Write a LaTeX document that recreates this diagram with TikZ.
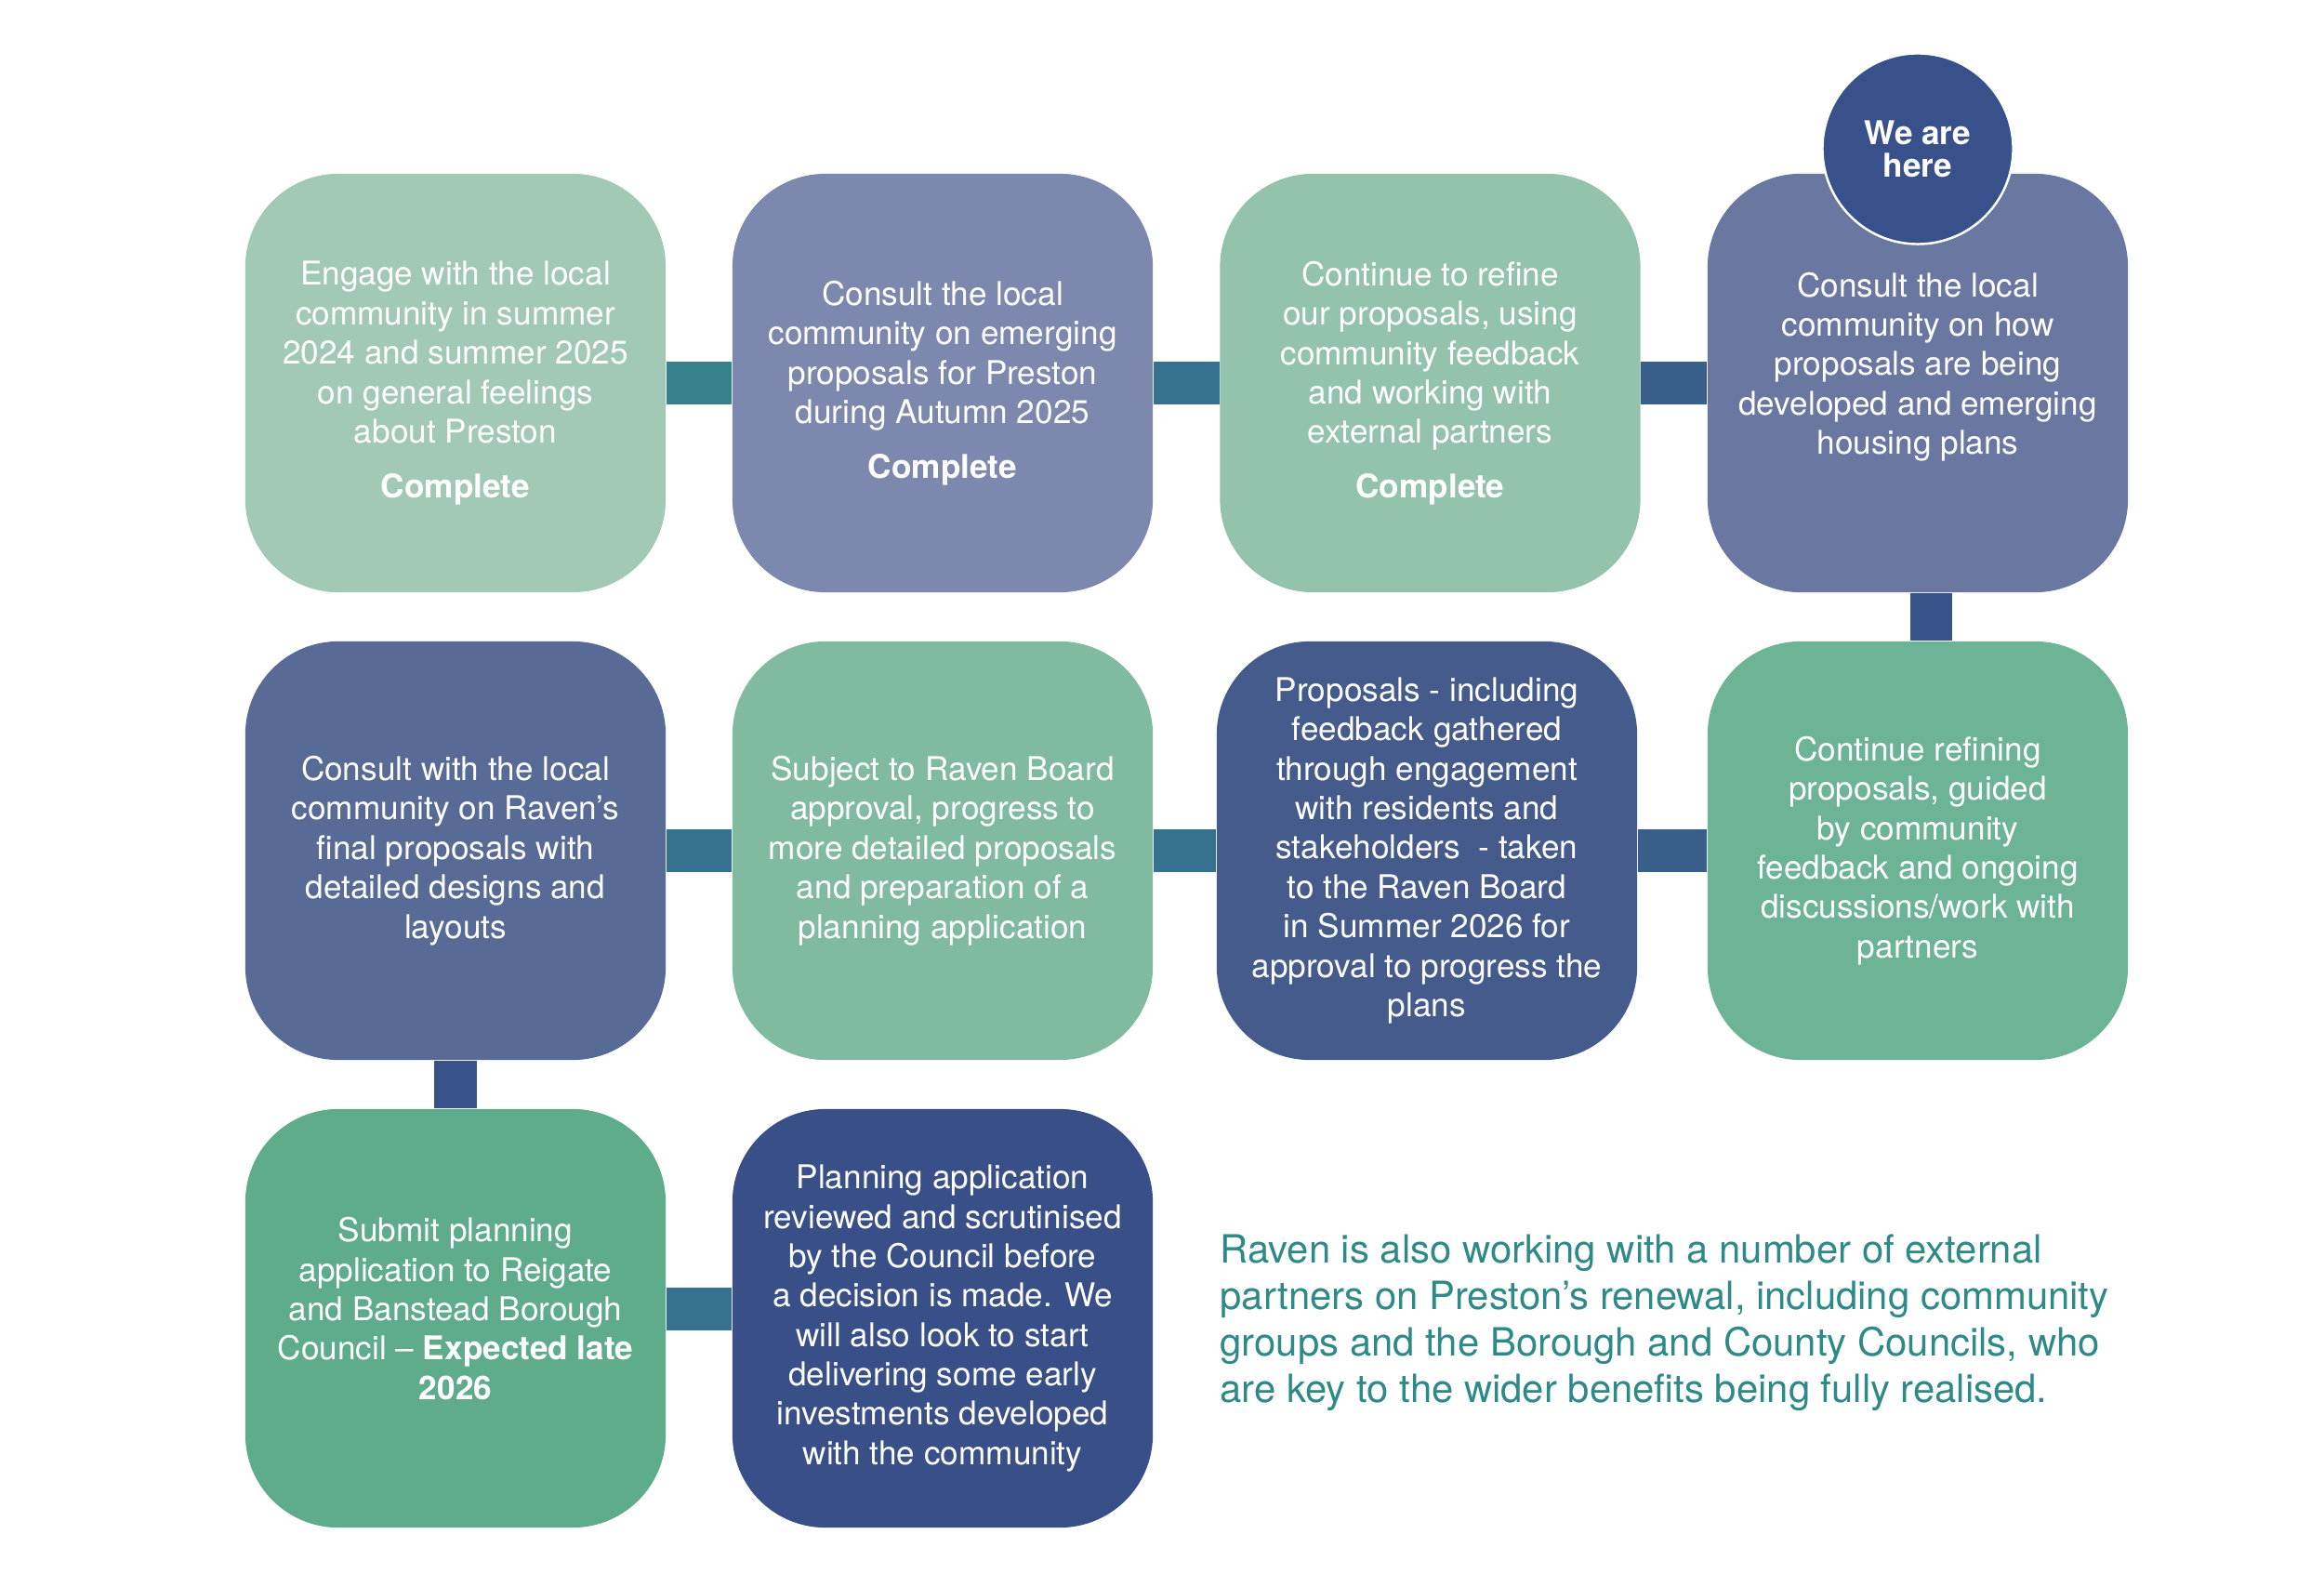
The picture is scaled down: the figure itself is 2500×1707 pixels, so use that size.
\documentclass[tikz,border=0pt]{standalone}
\usepackage{fontspec}
\setmainfont{TeX Gyre Heros}
\usepackage{tikz}
\usetikzlibrary{positioning,calc}
\usepackage{xcolor}

\definecolor{sageA}{HTML}{A2C9B6}
\definecolor{lilacA}{HTML}{7C88AD}
\definecolor{sageB}{HTML}{93C2AD}
\definecolor{lilacB}{HTML}{6A77A0}
\definecolor{navyA}{HTML}{586A96}
\definecolor{sageC}{HTML}{80BAA0}
\definecolor{navyB}{HTML}{445B8C}
\definecolor{sageD}{HTML}{6DB396}
\definecolor{sageE}{HTML}{5FAC8C}
\definecolor{navyC}{HTML}{384F87}
\definecolor{herecol}{HTML}{38518A}
\definecolor{linkA}{HTML}{35828C}
\definecolor{linkB}{HTML}{377190}
\definecolor{linkC}{HTML}{3A5E8A}
\definecolor{linkD}{HTML}{38528A}
\definecolor{notecol}{HTML}{2E8A87}

\tikzset{
  stage/.style={rounded corners=1cm, minimum width=4.52cm, minimum height=4.5cm,
    inner sep=0pt, align=center, text=white, font=\fontsize{10}{12.05}\selectfont},
  link/.style={line width=0.45cm},
  herebadge/.style={circle, minimum size=2.05cm, inner sep=0pt, fill=herecol,
    draw=white, line width=0.7pt, align=center, text=white,
    font=\fontsize{10}{10}\selectfont\bfseries},
}

\begin{document}
\begin{tikzpicture}[x=0.01cm, y=-0.01cm]
    \useasboundingbox[fill=white] (0,0) rectangle (2500,1707);

      % Row 1
      \node[stage, fill=sageA] (b1) at (490, 412) {Engage with the local\\community in summer\\2024 and summer 2025\\on general feelings\\about Preston\\[4.6pt]\textbf{Complete}};
      \node[stage, fill=lilacA] (b2) at (1014, 412) {Consult the local\\community on emerging\\proposals for Preston\\during Autumn 2025\\[4.6pt]\textbf{Complete}};
      \node[stage, fill=sageB] (b3) at (1538.5, 412) {Continue to refine\\our proposals, using\\community feedback\\and working with\\external partners\\[4.6pt]\textbf{Complete}};
      \node[stage, fill=lilacB] (b4) at (2063, 412) {Consult the local\\community on how\\proposals are being\\developed and emerging\\housing plans\\\mbox{}};

      % Row 2
      \node[stage, fill=navyA] (b5) at (490, 915) {Consult with the local\\community on Raven’s\\final proposals with\\detailed designs and\\layouts};
      \node[stage, fill=sageC] (b6) at (1014, 915) {Subject to Raven Board\\approval, progress to\\more detailed proposals\\and preparation of a\\planning application};
      \node[stage, fill=navyB] (b7) at (1535, 915) {Proposals - including\\feedback gathered\\through engagement\\with residents and\\stakeholders\ \ - taken\\to the Raven Board\\in Summer 2026 for\\approval to progress the\\plans};
      \node[stage, fill=sageD] (b8) at (2063, 915) {Continue refining\\proposals, guided\\by community\\feedback and ongoing\\discussions/work with\\partners};

      % Row 3
      \node[stage, fill=sageE] (b9) at (490, 1418) {Submit planning\\application to Reigate\\and Banstead Borough\\Council \textendash{} \textbf{Expected late}\\\textbf{2026}\\[-6pt]\mbox{}};
      \node[stage, fill=navyC] (b10) at (1014, 1418) {Planning application\\reviewed and scrutinised\\by the Council before\\a decision is made. We\\will also look to start\\delivering some early\\investments developed\\with the community};

      % Links
      \draw[link, linkA] (b1) -- (b2);
      \draw[link, linkB] (b2) -- (b3);
      \draw[link, linkC] (b3) -- (b4);
      \draw[link, linkD] ([xshift=0.14cm]b4.south) -- ([xshift=0.14cm]b8.north);
      \draw[link, linkC] (b8) -- (b7);
      \draw[link, linkB] (b7) -- (b6);
      \draw[link, linkB] (b6) -- (b5);
      \draw[link, linkD] (b5) -- (b9);
      \draw[link, linkB] ([yshift=0.1cm]b9.east) -- ([yshift=0.1cm]b10.west);

      % We are here
      \node[herebadge] (here) at (2063, 160) {We are\\here};

      % Note
      \node[anchor=north west, inner sep=0pt, align=left, text=notecol,
        font=\fontsize{11.9}{14.2}\selectfont] (note) at (1312, 1327)
        {Raven is also working with a number of external\\partners on Preston’s renewal, including community\\groups and the Borough and County Councils, who\\are key to the wider benefits being fully realised.};
  \end{tikzpicture}
\end{document}
